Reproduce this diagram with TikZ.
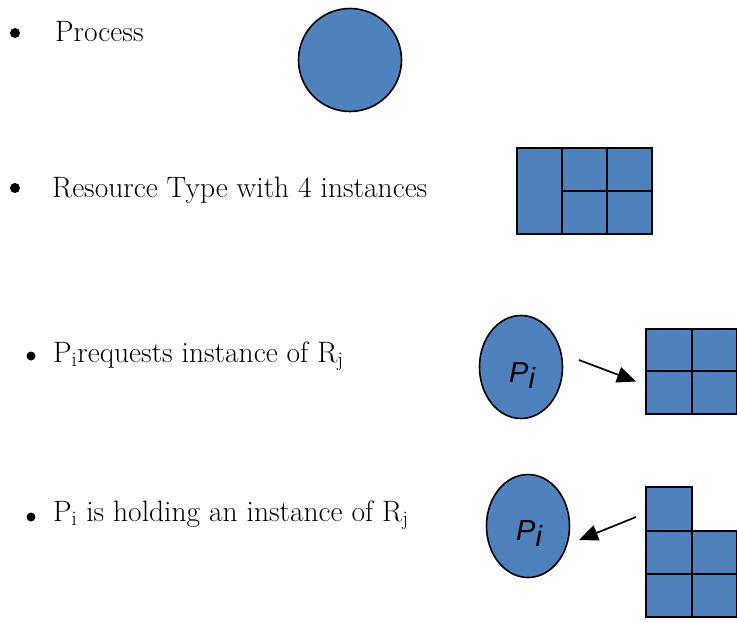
\documentclass[tikz,border=0pt]{standalone}
\usepackage{fontspec}
\newfontfamily\lsans{Liberation Sans}
\usetikzlibrary{shapes.geometric,arrows.meta}
\definecolor{procblue}{HTML}{4F81BD}
\tikzset{
  proc/.style={draw=black, fill=procblue, line width=1.6pt, inner sep=0pt},
  cell/.style={draw=black, fill=procblue, line width=1.8pt},
  bullettxt/.style={anchor=base west, inner sep=0pt, font=\fontsize{29.5}{32}\selectfont},
  bulletdot/.style={circle, fill=black, inner sep=0pt},
  plabel/.style={inner sep=0pt, anchor=base west, font=\lsans\itshape\fontsize{29}{31}\selectfont},
  edgearrow/.style={-{Triangle[length=19pt,width=16pt]}, line width=1.7pt}
}
\begin{document}
\begin{tikzpicture}[x=1pt,y=-1pt]
\useasboundingbox (0,0) rectangle (737,623);
% bullets
\node[bulletdot, minimum size=10pt] (b1) at (15,33) {};
\node[bulletdot, minimum size=10pt] (b2) at (15,188) {};
\node[bulletdot, minimum size=9pt] (b3) at (31,356) {};
\node[bulletdot, minimum size=9pt] (b4) at (31,517) {};
% texts
\node[bullettxt] (t1) at (55,42) {Process};
\node[bullettxt] (t2) at (52,197) {Resource Type with 4 instances};
\node[bullettxt] (t3) at (53,362) {P\textsubscript{i}requests instance of R\textsubscript{j}};
\node[bullettxt] (t4) at (53,521) {P\textsubscript{i} is holding an instance of R\textsubscript{j}};
% process circle
\node[proc, circle, minimum size=103pt] (proc) at (350,60) {};
% resource type with 4 instances
\draw[cell] (517,148) rectangle (562,234);
\draw[cell] (562,148) rectangle (607,191);
\draw[cell] (607,148) rectangle (652,191);
\draw[cell] (562,191) rectangle (607,234);
\draw[cell] (607,191) rectangle (652,234);
% request edge
\node[proc, ellipse, minimum width=83pt, minimum height=103pt] (p1) at (521,367) {};
\node[plabel] (p1l) at (509,382) {P\raisebox{-6pt}{i}};
\draw[cell] (646,329) rectangle (692,371);
\draw[cell] (692,329) rectangle (737,371);
\draw[cell] (646,371) rectangle (692,414);
\draw[cell] (692,371) rectangle (737,414);
\coordinate (r1s) at (579,360);
\coordinate (r1e) at (636,381.5);
\draw[edgearrow] (r1s) -- (r1e);
% assignment edge
\node[proc, ellipse, minimum width=83pt, minimum height=103pt] (p2) at (528,526) {};
\node[plabel] (p2l) at (516,540) {P\raisebox{-6pt}{i}};
\draw[cell] (646,487) rectangle (692,531);
\draw[cell] (646,531) rectangle (692,574);
\draw[cell] (692,531) rectangle (737,574);
\draw[cell] (646,574) rectangle (692,617);
\draw[cell] (692,574) rectangle (737,617);
\coordinate (r2s) at (636,517);
\coordinate (r2e) at (579,540);
\draw[edgearrow] (r2s) -- (r2e);
\end{tikzpicture}
\end{document}
